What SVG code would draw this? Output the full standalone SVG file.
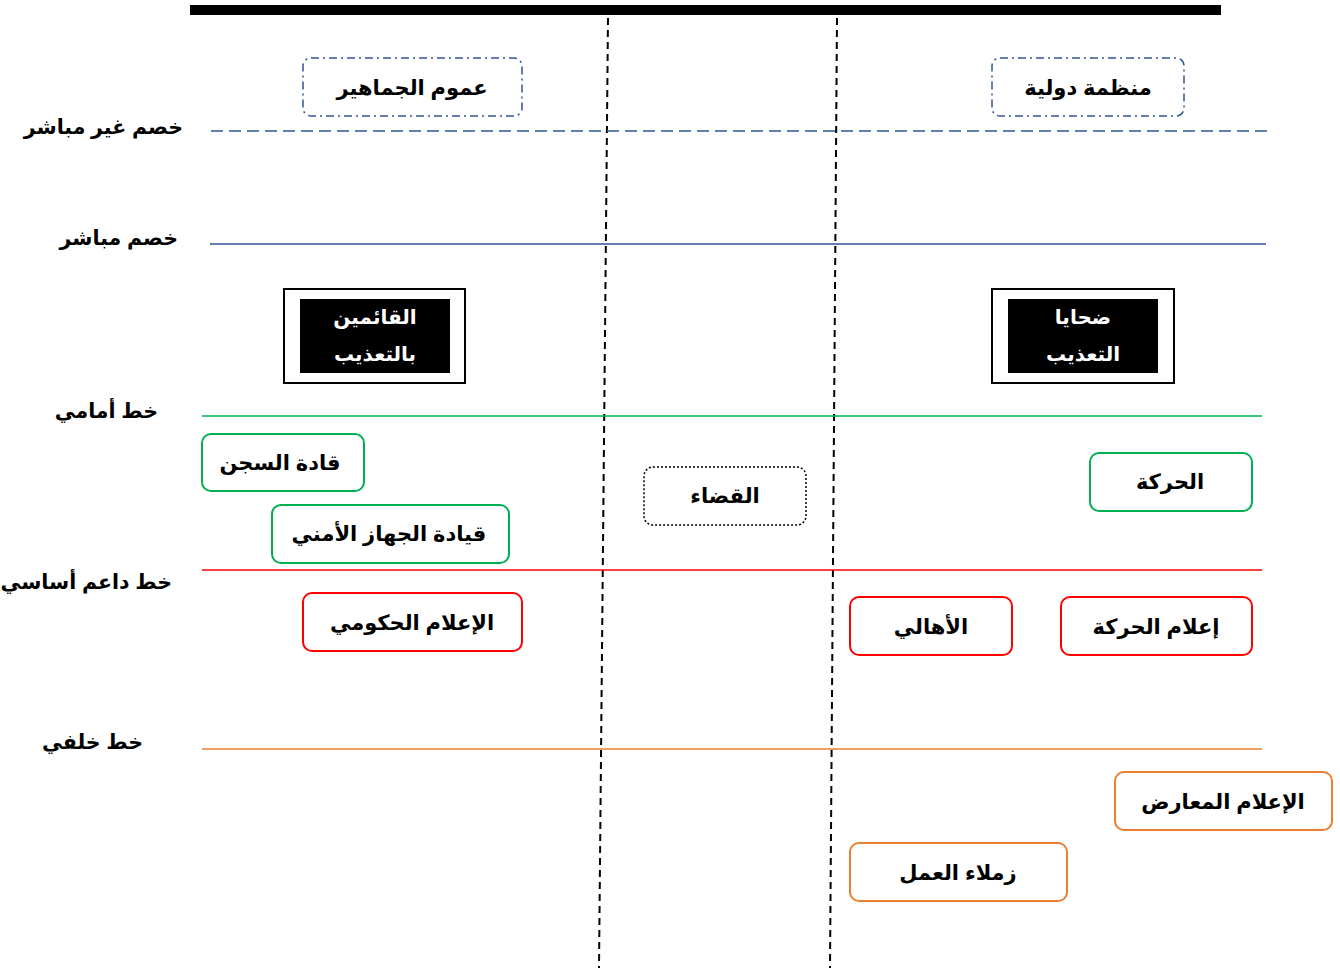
<svg xmlns="http://www.w3.org/2000/svg" width="1340" height="970" viewBox="0 0 1340 970">
<style>
text{font-family:"Liberation Sans","DejaVu Sans","Noto Sans",sans-serif;font-weight:bold;fill:#000}
.lbl{font-size:20.5px;text-anchor:end}
.nt{font-size:21px;text-anchor:middle;dominant-baseline:central}
.wt{font-size:20px;text-anchor:middle;fill:#fff}
.blue{fill:#fff;stroke:#2F5597;stroke-width:1.5;stroke-dasharray:8 4 2 4}
.dot{fill:#fff;stroke:#000;stroke-width:1.5;stroke-dasharray:2 2}
.g{fill:#fff;stroke:#00B050;stroke-width:2}
.r{fill:#fff;stroke:#FF0000;stroke-width:2}
.o{fill:#fff;stroke:#ED7D31;stroke-width:2}
</style>
<rect width="1340" height="970" fill="#fff"/>
<g id="connectors">
<rect x="190" y="5" width="1031" height="10" fill="#000"/>
<line x1="608" y1="18" x2="599" y2="968" stroke="#000" stroke-width="2" stroke-dasharray="7 5"/>
<line x1="837" y1="18" x2="830" y2="968" stroke="#000" stroke-width="2" stroke-dasharray="7 5"/>
<line x1="211" y1="131" x2="1270" y2="131" stroke="#2F5597" stroke-width="1.5" stroke-dasharray="12 6"/>
<line x1="210" y1="244" x2="1266" y2="244" stroke="#2F5597" stroke-width="1.5"/>
<line x1="202" y1="416" x2="1262" y2="416" stroke="#00B050" stroke-width="1.5"/>
<line x1="202" y1="570" x2="1262" y2="570" stroke="#FF0000" stroke-width="1.5"/>
<line x1="202" y1="749" x2="1262" y2="749" stroke="#ED7D31" stroke-width="1.5"/>
</g>
<g id="labels">
<text class="lbl" x="183" y="134">خصم غير مباشر</text>
<text class="lbl" x="178" y="245">خصم مباشر</text>
<text class="lbl" x="158" y="418">خط أمامي</text>
<text class="lbl" x="172" y="589">خط داعم أساسي</text>
<text class="lbl" x="143" y="749">خط خلفي</text>
</g>
<g id="n-public"><rect class="blue" x="303" y="58" width="219" height="58" rx="8"/><text class="nt" x="412" y="87">عموم الجماهير</text></g>
<g id="n-intl"><rect class="blue" x="992" y="58" width="192" height="58" rx="8"/><text class="nt" x="1088" y="87">منظمة دولية</text></g>
<g id="n-torturers"><rect x="284" y="289" width="181" height="94" fill="#fff" stroke="#000" stroke-width="2"/><rect x="300" y="299" width="150" height="74" fill="#000"/><text class="wt" x="375" y="324">القائمين</text><text class="wt" x="375" y="361">بالتعذيب</text></g>
<g id="n-victims"><rect x="992" y="289" width="182" height="94" fill="#fff" stroke="#000" stroke-width="2"/><rect x="1008" y="299" width="150" height="74" fill="#000"/><text class="wt" x="1083" y="324">ضحايا</text><text class="wt" x="1083" y="361">التعذيب</text></g>
<g id="n-prison"><rect class="g" x="202" y="434" width="162" height="57" rx="9"/><text class="nt" x="280" y="462">قادة السجن</text></g>
<g id="n-security"><rect class="g" x="272" y="505" width="237" height="58" rx="9"/><text class="nt" x="389" y="533">قيادة الجهاز الأمني</text></g>
<g id="n-judiciary"><rect class="dot" x="644" y="467" width="162" height="58" rx="9"/><text class="nt" x="725" y="495">القضاء</text></g>
<g id="n-movement"><rect class="g" x="1090" y="453" width="162" height="58" rx="9"/><text class="nt" x="1170" y="481">الحركة</text></g>
<g id="n-govmedia"><rect class="r" x="303" y="593" width="219" height="58" rx="9"/><text class="nt" x="412" y="622">الإعلام الحكومي</text></g>
<g id="n-families"><rect class="r" x="850" y="597" width="162" height="58" rx="9"/><text class="nt" x="931" y="626">الأهالي</text></g>
<g id="n-movmedia"><rect class="r" x="1061" y="597" width="191" height="58" rx="9"/><text class="nt" x="1156" y="626">إعلام الحركة</text></g>
<g id="n-oppmedia"><rect class="o" x="1115" y="772" width="217" height="58" rx="9"/><text class="nt" x="1223" y="801">الإعلام المعارض</text></g>
<g id="n-colleagues"><rect class="o" x="850" y="843" width="217" height="58" rx="9"/><text class="nt" x="958" y="872">زملاء العمل</text></g>
</svg>
